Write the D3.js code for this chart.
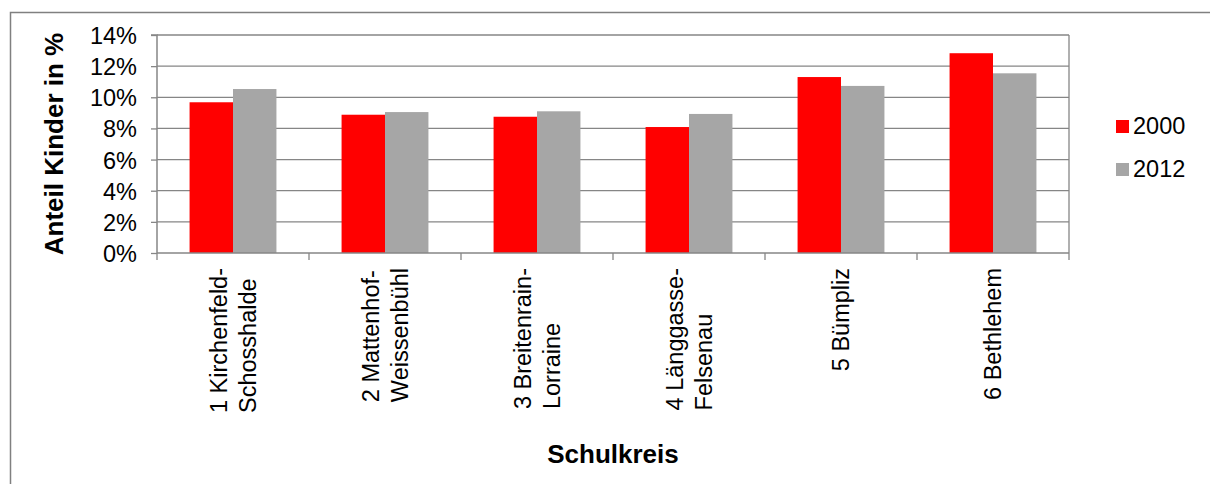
<!DOCTYPE html>
<html>
<head>
<meta charset="utf-8">
<script src="https://cdn.jsdelivr.net/npm/d3@7"></script>
<style>
  html, body { margin: 0; padding: 0; background: #fff; }
  svg { display: block; font-family: "Liberation Sans", Arial, sans-serif; }
</style>
</head>
<body>
<svg id="chart" width="1210" height="484"></svg>
<script>
// ---- data ----
const categories = [
  ["1 Kirchenfeld-", "Schosshalde"],
  ["2 Mattenhof-", "Weissenbühl"],
  ["3 Breitenrain-", "Lorraine"],
  ["4 Länggasse-", "Felsenau"],
  ["5 Bümpliz"],
  ["6 Bethlehem"]
];
const seriesNames = ["2000", "2012"];
const values2000 = [0.0968, 0.0888, 0.0875, 0.0809, 0.1130, 0.1283];
const values2012 = [0.1053, 0.0905, 0.0910, 0.0893, 0.1073, 0.1154];
const yTicks = [0, 0.02, 0.04, 0.06, 0.08, 0.10, 0.12, 0.14];
const yTitle = "Anteil Kinder in %";
const xTitle = "Schulkreis";

// ---- layout ----
const colors = {"2000": "#FF0000", "2012": "#A6A6A6"};
const gridColor = "#868686";
const fontSize = 23.5;
const plot = {left: 157, right: 1069, top: 35, bottom: 253};

const svg = d3.select("#chart");

// outer border
svg.append("rect")
  .attr("x", 10.5).attr("y", 12.5)
  .attr("width", 1400).attr("height", 800)
  .attr("fill", "none").attr("stroke", "#808080").attr("stroke-width", 1.5);

const catKeys = categories.map(c => c.join(" "));
const x = d3.scaleBand().domain(catKeys).range([plot.left, plot.right]).paddingInner(0).paddingOuter(0);
const x1 = d3.scaleBand().domain(seriesNames).range([0, x.bandwidth()]).paddingInner(0).paddingOuter(0.75);
const y = d3.scaleLinear().domain([0, 0.14]).range([plot.bottom, plot.top]);

// gridlines
svg.append("g").selectAll("line").data(yTicks.filter(t => t > 0)).join("line")
  .attr("x1", plot.left).attr("x2", plot.right)
  .attr("y1", d => y(d)).attr("y2", d => y(d))
  .attr("stroke", gridColor).attr("stroke-width", 1.3);

// right plot border
svg.append("line")
  .attr("x1", plot.right).attr("x2", plot.right)
  .attr("y1", plot.top).attr("y2", plot.bottom)
  .attr("stroke", gridColor).attr("stroke-width", 1.3);

// bars
const data = categories.map((c, i) => ({key: catKeys[i], vals: [
  {s: "2000", v: values2000[i]}, {s: "2012", v: values2012[i]}
]}));
const groups = svg.append("g").selectAll("g").data(data).join("g")
  .attr("transform", d => `translate(${x(d.key)},0)`);
groups.selectAll("rect").data(d => d.vals).join("rect")
  .attr("x", d => x1(d.s))
  .attr("width", x1.bandwidth())
  .attr("y", d => y(d.v))
  .attr("height", d => y(0) - y(d.v))
  .attr("fill", d => colors[d.s]);

// y axis
const yAxis = d3.axisLeft(y).tickValues(yTicks).tickFormat(d => Math.round(d * 100) + "%")
  .tickSize(6).tickPadding(14);
const yg = svg.append("g").attr("transform", `translate(${plot.left},0)`).call(yAxis);
yg.select(".domain").attr("stroke", gridColor).attr("stroke-width", 1.5)
  .attr("d", `M-6,${plot.top}H0V${plot.bottom}`);
yg.selectAll(".tick line").attr("stroke", gridColor).attr("stroke-width", 1.3);
yg.selectAll(".tick text").attr("font-size", fontSize).attr("fill", "#000")
  .attr("font-family", "Liberation Sans, Arial, sans-serif").attr("dy", "0.36em");

// x axis (ticks at category boundaries)
const xAxis = d3.axisBottom(x).tickSize(0).tickFormat("");
const xg = svg.append("g").attr("transform", `translate(0,${plot.bottom})`).call(xAxis);
xg.select(".domain").attr("stroke", gridColor).attr("stroke-width", 1.5)
  .attr("d", `M${plot.left},0H${plot.right}`);
const boundaries = catKeys.map(k => x(k)).concat([plot.right]);
xg.selectAll("line.bnd").data(boundaries).join("line").attr("class", "bnd")
  .attr("x1", d => d).attr("x2", d => d).attr("y1", 0).attr("y2", 7)
  .attr("stroke", gridColor).attr("stroke-width", 1.3);

// category labels (rotated, multi-line)
const lineGap = 28.3;
const labelTop = plot.bottom + 15;
const lg = svg.append("g");
data.forEach((d, i) => {
  const lines = categories[i];
  const cx = x(d.key) + x.bandwidth() / 2;
  const t = lg.append("g");
  const texts = lines.map((ln, j) => t.append("text")
    .attr("font-size", fontSize).attr("fill", "#000")
    .attr("text-anchor", "start")
    .text(ln));
  const maxLen = d3.max(texts, tx => tx.node().getComputedTextLength());
  texts.forEach((tx, j) => {
    const bx = cx + (j - (lines.length - 1) / 2) * lineGap + fontSize * 0.36;
    const by = labelTop + maxLen;
    tx.attr("transform", `translate(${bx},${by}) rotate(-90)`);
  });
});

// y title
svg.append("text")
  .attr("transform", `translate(63,${(plot.top + plot.bottom) / 2}) rotate(-90)`)
  .attr("text-anchor", "middle").attr("font-size", 26).attr("font-weight", "bold")
  .attr("fill", "#000").text(yTitle);

// x title
svg.append("text")
  .attr("x", (plot.left + plot.right) / 2).attr("y", 462.5)
  .attr("text-anchor", "middle").attr("font-size", 26).attr("font-weight", "bold")
  .attr("fill", "#000").text(xTitle);

// legend
const leg = svg.append("g").selectAll("g").data(seriesNames).join("g")
  .attr("transform", (d, i) => `translate(1116,${120 + i * 43})`);
leg.append("rect").attr("width", 13).attr("height", 13).attr("fill", d => colors[d]);
leg.append("text").attr("x", 17).attr("y", 13.5)
  .attr("font-size", fontSize).attr("fill", "#000").text(d => d);
</script>
</body>
</html>
